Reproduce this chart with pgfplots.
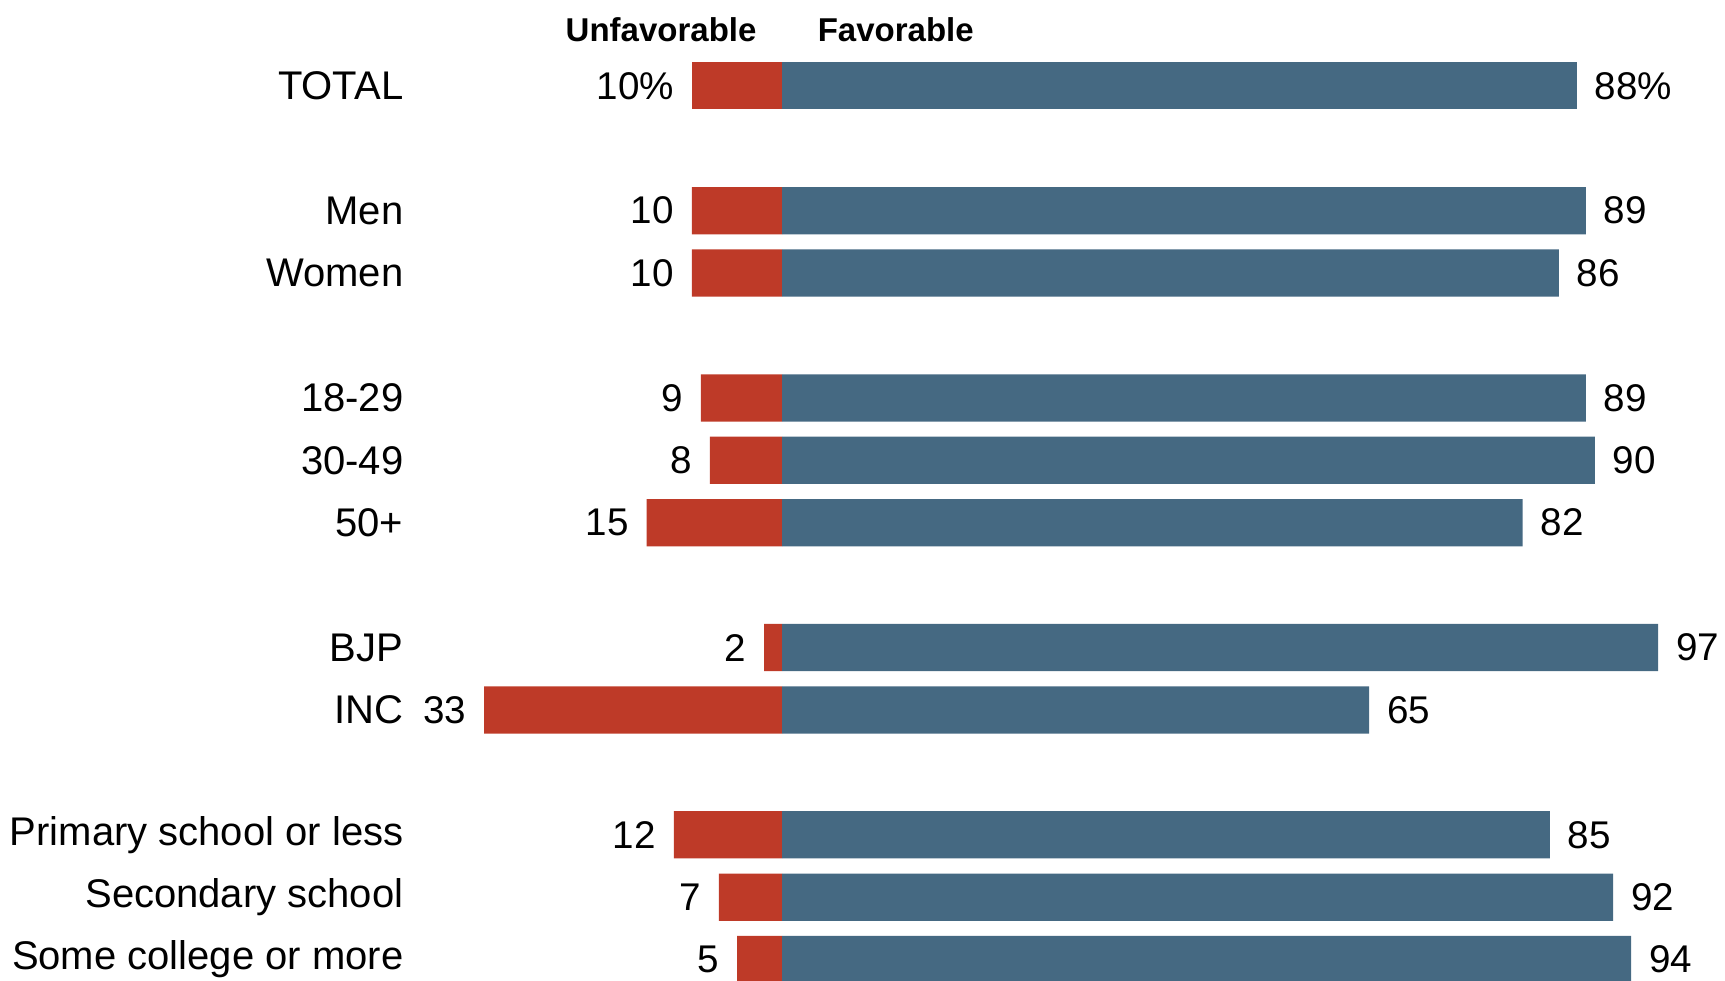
\documentclass[border=0pt]{standalone}
\usepackage{pgfplots}
\pgfplotsset{compat=1.18}
\usepackage{pgfplotstable}
\usepackage{fontspec}
\setmainfont{Liberation Sans}
\definecolor{unfav}{RGB}{190,58,40}
\definecolor{fav}{RGB}{69,105,130}
\pgfplotstableread{
row unf fav
2 10 89
3 10 86
5 9 89
6 8 90
7 15 82
9 2 97
10 33 65
12 12 85
13 7 92
14 5 94
}\datatab
\pgfplotstableread{
row unf fav
0 10 88
}\totaltab
\newcommand{\lab}{\fontsize{19.3}{22}\selectfont}
\newcommand{\rowlab}{\fontsize{20}{23}\selectfont}
\begin{document}
\begin{tikzpicture}
\begin{axis}[
  scale only axis, width=660.5pt, height=490pt,
  xmin=-41.9, xmax=104.4, ymin=-1.375, ymax=14.33, y dir=reverse,
  axis line style={draw=none}, tick style={draw=none},
  xtick=\empty,
  ytick={0,2,3,5,6,7,9,10,12,13,14},
  yticklabels={TOTAL,Men,Women,18-29,30-49,50+,BJP,INC,Primary school or less,Secondary school,Some college or more},
  yticklabel style={font=\rowlab, inner sep=0pt, anchor=east},
  major tick length=0pt,
  xbar, bar width=0.757, bar shift=0pt,
  /pgf/number format/assume math mode=true,
  point meta=explicit,
]
\addplot[fill=unfav, draw=none,
  nodes near coords={\pgfmathprintnumber{\pgfplotspointmeta}},
  nodes near coords style={anchor=east, inner sep=0pt, xshift=-8.8pt, font=\lab, text=black}]
  table[x expr=-\thisrow{unf}, y=row, meta=unf] {\datatab};
\addplot[fill=fav, draw=none,
  nodes near coords={\pgfmathprintnumber{\pgfplotspointmeta}},
  nodes near coords style={anchor=west, inner sep=0pt, xshift=8.8pt, font=\lab, text=black}]
  table[x=fav, y=row, meta=fav] {\datatab};
\addplot[fill=unfav, draw=none,
  nodes near coords={\pgfmathprintnumber{\pgfplotspointmeta}\%},
  nodes near coords style={anchor=east, inner sep=0pt, xshift=-8.8pt, font=\lab, text=black}]
  table[x expr=-\thisrow{unf}, y=row, meta=unf] {\totaltab};
\addplot[fill=fav, draw=none,
  nodes near coords={\pgfmathprintnumber{\pgfplotspointmeta}\%},
  nodes near coords style={anchor=west, inner sep=0pt, xshift=8.8pt, font=\lab, text=black}]
  table[x=fav, y=row, meta=fav] {\totaltab};
\node[anchor=east, inner sep=0pt, font=\bfseries\fontsize{16.5}{20}\selectfont] at (axis cs:-2.8,-0.9) {Unfavorable};
\node[anchor=west, inner sep=0pt, font=\bfseries\fontsize{16.5}{20}\selectfont] at (axis cs:3.9,-0.9) {Favorable};
\end{axis}
\pgfresetboundingbox
\useasboundingbox ([xshift=-201.85pt]current axis.south west) rectangle (current axis.north east);
\end{tikzpicture}
\end{document}
